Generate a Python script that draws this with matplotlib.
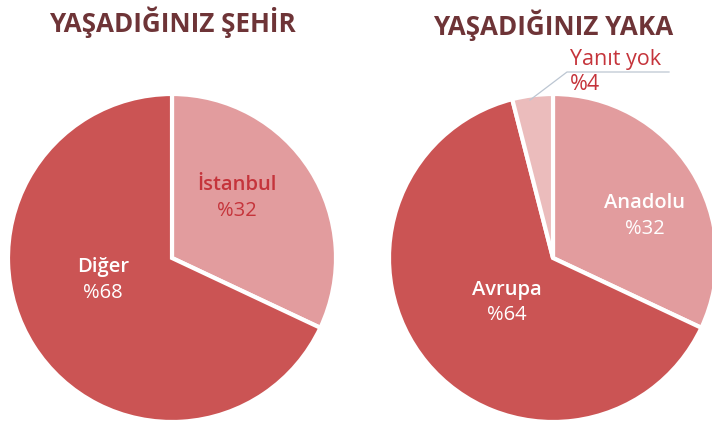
import matplotlib
matplotlib.use("Agg")
import matplotlib.pyplot as plt

plt.rcParams['font.family'] = ['Open Sans', 'DejaVu Sans']

# Data
city_labels = ["İstanbul", "Diğer"]
city_values = [32, 68]
side_labels = ["Anadolu", "Avrupa", "Yanıt yok"]
side_values = [32, 64, 4]
titles = ["YAŞADIĞINIZ ŞEHİR", "YAŞADIĞINIZ YAKA"]

DARK = "#cb5454"
LIGHT = "#e29c9e"
PALE = "#ebbcbc"
TITLE_C = "#6e3437"
RED_TXT = "#c5343b"

W, H = 712, 428
fig = plt.figure(figsize=(W / 100, H / 100), dpi=100)


def px_axes(cx, cy, r):
    return fig.add_axes([(cx - r) / W, (H - cy - r) / H, 2 * r / W, 2 * r / H])


def ftext(x, y, s, **kw):
    fig.text(x / W, 1 - y / H, s, **kw)


# Left pie
ax1 = px_axes(172, 258, 164)
ax1.pie(city_values, colors=[LIGHT, DARK], startangle=90, counterclock=False,
        wedgeprops=dict(edgecolor="white", linewidth=3))
ax1.set_xlim(-1, 1); ax1.set_ylim(-1, 1)
ax1.set_aspect("equal")

# Right pie
ax2 = px_axes(553, 258, 164)
ax2.pie(side_values, colors=[LIGHT, DARK, PALE], startangle=90, counterclock=False,
        wedgeprops=dict(edgecolor="white", linewidth=3))
ax2.set_xlim(-1, 1); ax2.set_ylim(-1, 1)
ax2.set_aspect("equal")

# Titles
ftext(172, 22, titles[0], ha="center", va="center", fontsize=18.7, fontweight="bold", color=TITLE_C)
ftext(553, 25, titles[1], ha="center", va="center", fontsize=18.7, fontweight="bold", color=TITLE_C)

fs = 14.5
nw = "semibold"
pw = "normal"
# Left labels
ftext(237, 185, city_labels[0], ha="center", va="center", fontsize=fs, fontweight=nw, color=RED_TXT)
ftext(237, 211, f"%{city_values[0]}", ha="center", va="center", fontsize=fs, fontweight=pw, color=RED_TXT)
ftext(103, 267, city_labels[1], ha="center", va="center", fontsize=fs, fontweight=nw, color="white")
ftext(103, 293, f"%{city_values[1]}", ha="center", va="center", fontsize=fs, fontweight=pw, color="white")

# Right labels
ftext(645, 203, side_labels[0], ha="center", va="center", fontsize=fs, fontweight=nw, color="white")
ftext(645, 229, f"%{side_values[0]}", ha="center", va="center", fontsize=fs, fontweight=pw, color="white")
ftext(507, 290, side_labels[1], ha="center", va="center", fontsize=fs, fontweight=nw, color="white")
ftext(507, 315, f"%{side_values[1]}", ha="center", va="center", fontsize=fs, fontweight=pw, color="white")
ftext(570, 59, side_labels[2], ha="left", va="center", fontsize=15.5, color=RED_TXT)
ftext(570, 84, f"%{side_values[2]}", ha="left", va="center", fontsize=15.5, fontweight=pw, color=RED_TXT)

# Leader line
fig.add_artist(plt.Line2D([530 / W, 567 / W, 669 / W],
                          [1 - 100 / H, 1 - 72 / H, 1 - 72 / H],
                          color="#bcc6d2", linewidth=0.9))

fig.savefig("out.png", dpi=100)
